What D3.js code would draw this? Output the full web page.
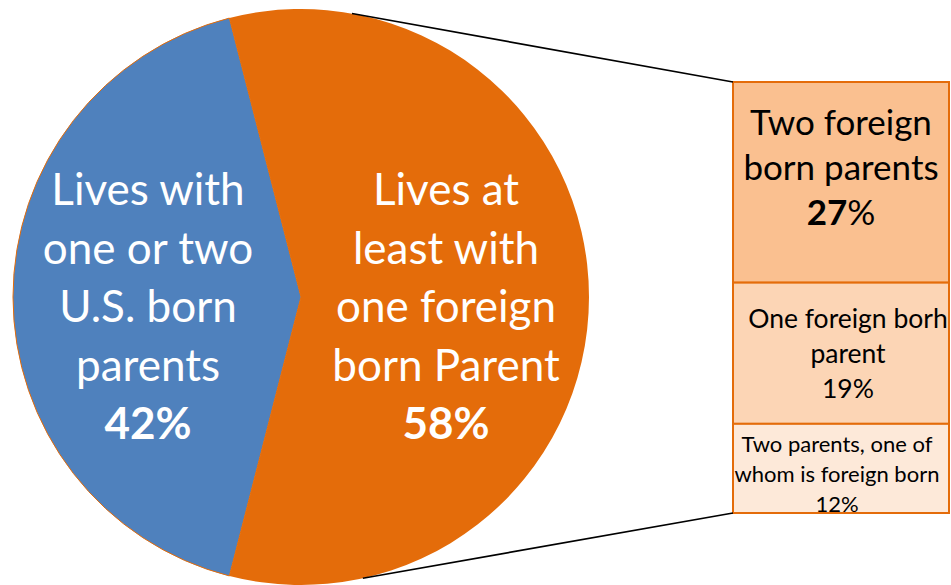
<!DOCTYPE html>
<html>
<head>
<meta charset="utf-8">
<script src="https://cdn.jsdelivr.net/npm/d3@7"></script>
<style>
  html, body { margin: 0; padding: 0; background: #fff; }
  svg { display: block; }
  text { font-family: Lato, "Open Sans", sans-serif; }
</style>
</head>
<body>
<svg id="chart" width="951" height="585"></svg>
<script>
// ---- data ----
const mainCategories = ["Lives with one or two U.S. born parents", "Lives at least with one foreign born Parent"];
const mainValues = [42, 58];
const mainLabelLines = [
  ["Lives with", "one or two", "U.S. born", "parents"],
  ["Lives at", "least with", "one foreign", "born Parent"]
];
const subCategories = ["Two foreign born parents", "One foreign borh parent", "Two parents, one of whom is foreign born"];
const subValues = [27, 19, 12];
const subLabelLines = [
  ["Two foreign", "born parents"],
  ["One foreign borh", "parent"],
  ["Two parents, one of", "whom is foreign born"]
];

// ---- layout ----
const svg = d3.select("#chart");
const cx = 301, cy = 297, R = 288;
const mainColors = ["#4f81bd", "#e46c0a"];
const subColors = ["#fac090", "#fcd5b5", "#fde9d9"];

const total = d3.sum(mainValues);
const pie = d3.pie().sort(null)
  .startAngle(Math.PI / 2 + Math.PI * mainValues[1] / total)
  .endAngle(Math.PI / 2 + Math.PI * mainValues[1] / total + 2 * Math.PI);
const arcs = pie(mainValues);
const arc = d3.arc().innerRadius(0).outerRadius(R);

const g = svg.append("g").attr("transform", `translate(${cx},${cy})`);
g.selectAll("path.slice").data(arcs).join("path")
  .attr("class", "slice")
  .attr("d", arc)
  .attr("fill", (d, i) => mainColors[i])
  .attr("stroke", "#e46c0a")
  .attr("stroke-width", (d, i) => i === 0 ? 1 : 0);

// pie labels
const labelCentersX = [148, 446];
const lineH = 58.5, firstBase = 205;
mainLabelLines.forEach((lines, i) => {
  const t = svg.append("text")
    .attr("text-anchor", "middle")
    .attr("fill", "#fff")
    .attr("font-size", 44);
  lines.forEach((ln, j) => {
    t.append("tspan").attr("x", labelCentersX[i]).attr("y", firstBase + j * lineH).text(ln);
  });
  t.append("tspan").attr("x", labelCentersX[i]).attr("y", firstBase + lines.length * lineH)
    .attr("font-weight", "bold").text(mainValues[i] + "%");
});

// ---- bar of pie ----
const barX0 = 733, barX1 = 949;
const y = d3.scaleLinear().domain([0, d3.sum(subValues)]).range([82, 513]);
const stacked = [];
let acc = 0;
subValues.forEach((v, i) => { stacked.push({ v, i, y0: acc, y1: acc + v }); acc += v; });

svg.selectAll("rect.sub").data(stacked).join("rect")
  .attr("class", "sub")
  .attr("x", barX0)
  .attr("y", d => y(d.y0))
  .attr("width", barX1 - barX0)
  .attr("height", d => y(d.y1) - y(d.y0))
  .attr("fill", d => subColors[d.i])
  .attr("stroke", "#e46c0a")
  .attr("stroke-width", 2);

// sub labels
const subStyles = [
  { cx: 841, size: 35, lh: 45, base: 135 },
  { cx: 848, size: 26.5, lh: 35, base: 328 },
  { cx: 837, size: 22, lh: 30, base: 452 }
];
stacked.forEach((d, i) => {
  const s = subStyles[i];
  const t = svg.append("text").attr("text-anchor", "middle").attr("fill", "#000").attr("font-size", s.size);
  subLabelLines[i].forEach((ln, j) => {
    t.append("tspan").attr("x", s.cx).attr("y", s.base + j * s.lh).text(ln);
  });
  const p = t.append("tspan").attr("x", s.cx).attr("y", s.base + subLabelLines[i].length * s.lh);
  if (i === 0) {
    p.append("tspan").attr("font-weight", "bold").text(d.v);
    p.append("tspan").text("%");
  } else {
    p.text(d.v + "%");
  }
});

// ---- connector lines ----
const aTop = 10.2 * Math.PI / 180, aBot = (180 - 12.4) * Math.PI / 180;
const pTop = [cx + R * Math.sin(aTop), cy - R * Math.cos(aTop)];
const pBot = [cx + R * Math.sin(aBot), cy - R * Math.cos(aBot)];
svg.append("line").attr("x1", pTop[0]).attr("y1", pTop[1]).attr("x2", barX0).attr("y2", y(0))
  .attr("stroke", "#000").attr("stroke-width", 1.6);
svg.append("line").attr("x1", pBot[0]).attr("y1", pBot[1]).attr("x2", barX0).attr("y2", y(d3.sum(subValues)))
  .attr("stroke", "#000").attr("stroke-width", 1.6);
</script>
</body>
</html>
